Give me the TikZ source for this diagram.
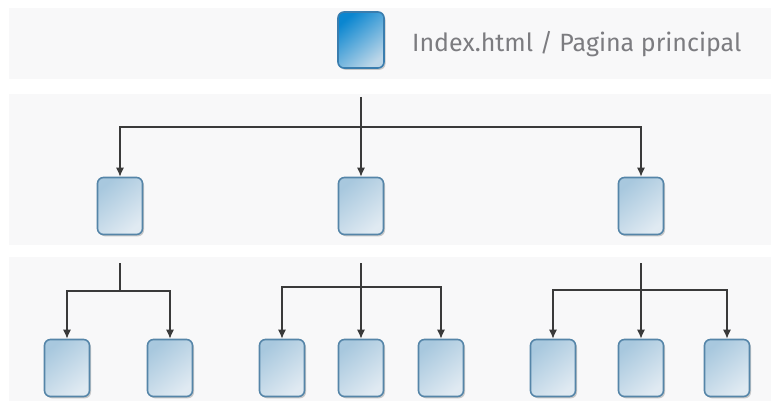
\documentclass[tikz,border=0pt]{standalone}
\usepackage{fontspec}
\setmainfont{Fira Sans}
\usetikzlibrary{arrows.meta,shadows}
\definecolor{bandgray}{HTML}{F8F8F9}
\definecolor{linegray}{HTML}{3A3A3A}
\definecolor{textgray}{HTML}{7C7C80}
\definecolor{pageedge}{HTML}{5585A8}
\definecolor{rootedge}{HTML}{3A7DAE}
\definecolor{pagetop}{HTML}{A8C8DE}
\definecolor{pagebot}{HTML}{E0EAF2}
\definecolor{roottop}{HTML}{0A86D0}
\definecolor{rootbot}{HTML}{BCD6E8}
\tikzset{>={Latex[length=9pt,width=8pt]}}
\tikzset{
  page/.style={rounded corners=6pt, minimum width=45pt, minimum height=57pt,
    draw=pageedge, line width=1.6pt,
    top color=pagetop, bottom color=pagebot, shading angle=40,
    drop shadow={opacity=0.4, shadow xshift=1.5pt, shadow yshift=-1.8pt}},
  rootpage/.style={page, minimum width=46pt, minimum height=56pt, draw=rootedge,
    top color=roottop, bottom color=rootbot, shading angle=40},
  link/.style={draw=linegray, line width=1.3pt}
}

\begin{document}
\begin{tikzpicture}[x=1pt,y=-1pt]
  \useasboundingbox (0,0) rectangle (771,401);
  % bands
  \foreach \t/\b in {8/79,94/245,257/401} { \fill[bandgray] (9,\t) rectangle (771,\b); }
  % root
  \node[rootpage] (root) at (361,40) {};
  \node[anchor=base west, text=textgray, font=\fontsize{25}{29}\selectfont, inner sep=0pt]
    (title) at (412,52) {Index.html / Pagina principal};
  % first level
  \foreach \n/\x in {a/120,b/361,c/641} { \node[page] (\n) at (\x,206) {}; }
  % second level
  \foreach \n/\x in {a1/67,a2/170,b1/282,b2/361,b3/441,c1/553,c2/641,c3/727} {%
    \node[page] (\n) at (\x,368) {};
  }
  \coordinate (top) at (361,97);
  \coordinate (bus) at (361,127);
  \draw[link,->] (top) -- (b);
  \draw[link,->] (bus) -| (a);
  \draw[link,->] (bus) -| (c);
  % second level connectors
  \coordinate (sa) at (120,263); \coordinate (ja) at (120,291);
  \coordinate (sb) at (361,263); \coordinate (jb) at (361,287);
  \coordinate (sc) at (641,263); \coordinate (jc) at (641,290);
  \draw[link] (sa) -- (ja);
  \draw[link,->] (sb) -- (b2);
  \draw[link,->] (sc) -- (c2);
  \foreach \j/\n in {ja/a1,ja/a2,jb/b1,jb/b3,jc/c1,jc/c3} { \draw[link,->] (\j) -| (\n); }
\end{tikzpicture}
\end{document}
